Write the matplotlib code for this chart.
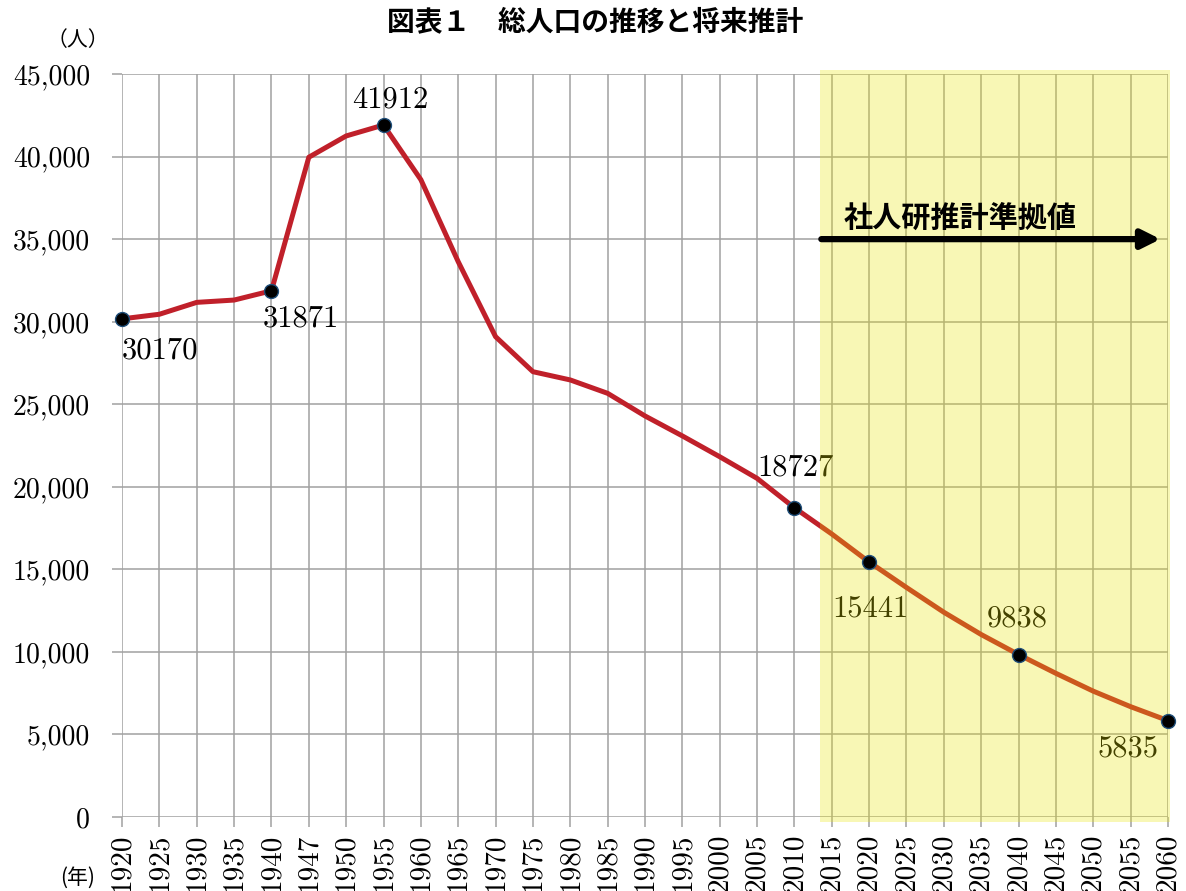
import matplotlib
matplotlib.use('Agg')
import matplotlib.pyplot as plt
from matplotlib.patches import Rectangle

# 年次（カテゴリ軸）
years = ['1920', '1925', '1930', '1935', '1940', '1947', '1950', '1955', '1960',
         '1965', '1970', '1975', '1980', '1985', '1990', '1995', '2000', '2005',
         '2010', '2015', '2020', '2025', '2030', '2035', '2040', '2045', '2050',
         '2055', '2060']

# 実績（1920-2010）
actual_pop = [30170, 30450, 31170, 31310, 31871, 39960, 41250, 41912, 38600,
              33630, 29090, 26970, 26470, 25660, 24290, 23080, 21820, 20510,
              18727]

# 社人研推計準拠（2010-2060）
proj_pop = [18727, 17140, 15441, 13900, 12400, 11050, 9838, 8700, 7620, 6680, 5835]

# ラベル付きの点
marked_years = ['1920', '1940', '1955', '2010', '2020', '2040', '2060']
marked_pop = [30170, 31871, 41912, 18727, 15441, 9838, 5835]
label_offsets = [(27, -23), (21, -20), (5, 18), (1, 29), (1, -34), (-1, 26), (-29, -20)]

y_ticks = [0, 5000, 10000, 15000, 20000, 25000, 30000, 35000, 40000, 45000]

num_font = 'cmr10'
jp_font = ['Noto Sans CJK JP', 'DejaVu Sans']

fig = plt.figure(figsize=(11.86, 8.91), dpi=100)
ax = fig.add_axes([0.1029, 0.0831, 0.8819, 0.8338])

xi = list(range(len(years)))
idx = {y: i for i, y in enumerate(years)}

line_color = '#c0202a'
ax.plot(xi[:len(actual_pop)], actual_pop, color=line_color, lw=3.6, zorder=2,
        solid_joinstyle='round')
ax.plot(xi[len(actual_pop) - 1:], proj_pop, color=line_color, lw=3.6, zorder=2,
        solid_joinstyle='round')

for y, v, off in zip(marked_years, marked_pop, label_offsets):
    ax.annotate(f'{v}', (idx[y], v), xytext=off, textcoords='offset points',
                ha='center', va='center', fontsize=22, family=num_font,
                color='black', zorder=2.5)

# 推計期間の網掛け
ax.add_patch(Rectangle((18.68, -300), 28.05 - 18.68, 45545, facecolor='#eae400',
                       alpha=0.29, edgecolor='none', zorder=3, clip_on=False))

ax.plot([idx[y] for y in marked_years], marked_pop, 'o', ms=10, mfc='black',
        mec='#1f4e79', mew=1, zorder=4, clip_on=False)

ax.annotate('', xy=(27.8, 35000), xytext=(18.72, 35000),
            arrowprops=dict(arrowstyle='-|>', lw=4.5, color='black',
                            mutation_scale=28, shrinkA=0, shrinkB=0), zorder=5)
ax.text(22.43, 36300, '社人研推計準拠値', ha='center', va='center', fontsize=21,
        fontweight='bold', family=jp_font, zorder=5)

ax.set_xlim(0, 28)
ax.set_ylim(0, 45000)
ax.set_xticks(xi)
ax.set_xticklabels(years, rotation=90, family=num_font, fontsize=21)
ax.set_yticks(y_ticks)
ax.set_yticklabels([f'{v:,}' for v in y_ticks], family=num_font, fontsize=20)
ax.tick_params(axis='x', length=7, width=1.1, color='#a0a0a0', pad=5)
ax.tick_params(axis='y', length=7, width=1.1, color='#a0a0a0', pad=16)
ax.grid(True, color='#a0a0a0', lw=1.1)
ax.set_axisbelow(True)
for s in ax.spines.values():
    s.set_visible(False)

fig.text(0.502, 0.975, '図表１　総人口の推移と将来推計', ha='center', va='center',
         fontsize=20, fontweight='bold', family=jp_font)
fig.text(0.066, 0.955, '（人）', ha='center', va='center', fontsize=15, family=jp_font)
fig.text(0.065, 0.015, '(年)', ha='center', va='center', fontsize=15, family=jp_font)

fig.savefig('out.png', dpi=100)
